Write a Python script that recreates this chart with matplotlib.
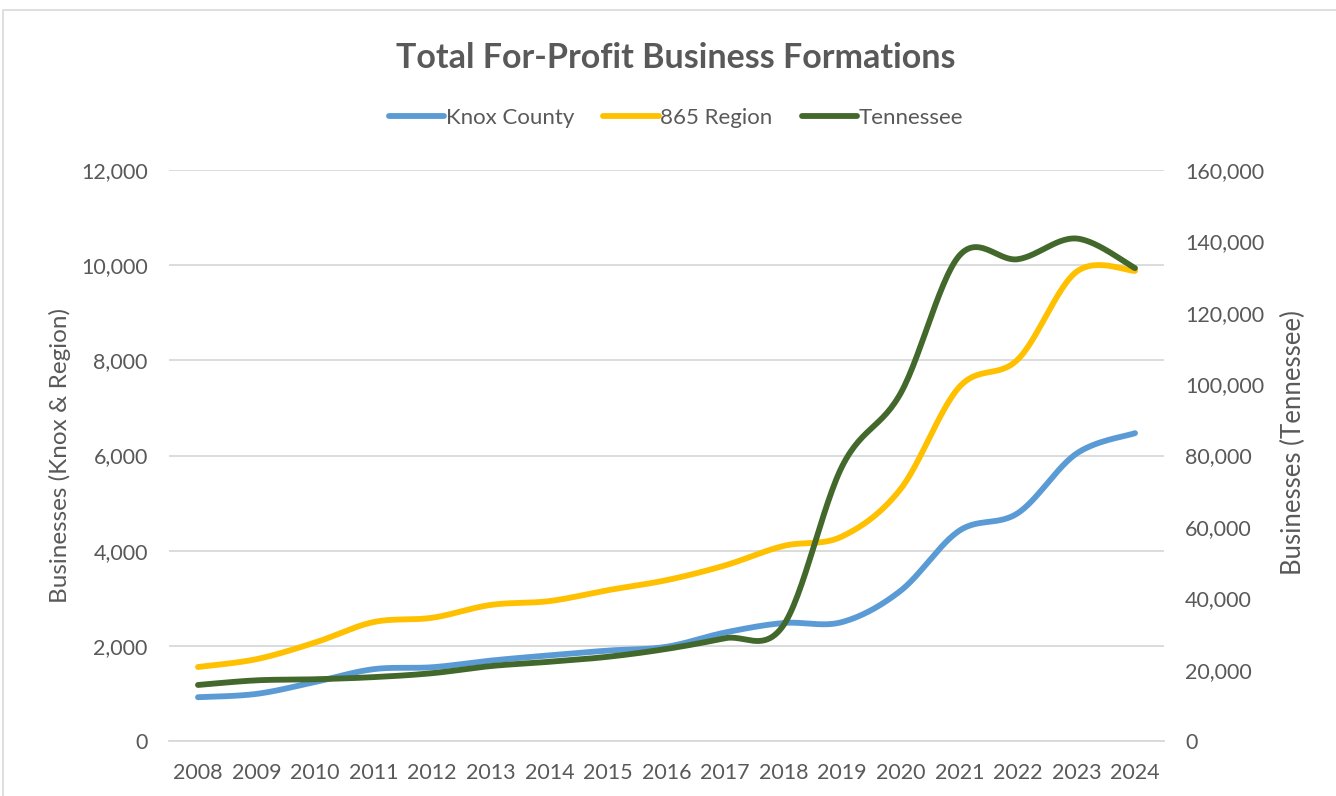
import matplotlib
matplotlib.use("Agg")
import matplotlib.pyplot as plt
from matplotlib.patches import Rectangle
from matplotlib.ticker import FuncFormatter, MultipleLocator
import numpy as np

# Data
years = list(range(2008, 2025))
knox = [920, 990, 1240, 1510, 1550, 1690, 1800, 1900, 1980, 2280, 2480, 2500,
        3160, 4420, 4790, 6040, 6470]
region = [1555, 1720, 2070, 2500, 2590, 2860, 2940, 3170, 3380, 3690, 4100,
          4300, 5300, 7440, 8020, 9860, 9880]
tennessee = [15700, 17000, 17300, 17900, 19000, 21000, 22200, 23600, 25800,
             28800, 32500, 77000, 97500, 136000, 135000, 140800, 132500]

TEXT = "#595959"
GRID = "#D9D9D9"
plt.rcParams['font.family'] = ['Lato', 'DejaVu Sans']


# Excel style smoothed line (Catmull-Rom bezier between the points)
def smooth(xs, ys, n=30):
    xs = np.asarray(xs, float)
    ys = np.asarray(ys, float)
    px = np.concatenate([[xs[0]], xs, [xs[-1]]])
    py = np.concatenate([[ys[0]], ys, [ys[-1]]])
    out_x, out_y = [], []
    t = np.linspace(0, 1, n)
    for i in range(1, len(xs)):
        p0 = np.array([px[i], py[i]])
        p3 = np.array([px[i + 1], py[i + 1]])
        c1 = p0 + (p3 - np.array([px[i - 1], py[i - 1]])) / 6
        c2 = p3 - (np.array([px[i + 2], py[i + 2]]) - p0) / 6
        pts = ((1 - t) ** 3)[:, None] * p0 + (3 * (1 - t) ** 2 * t)[:, None] * c1 \
            + (3 * (1 - t) * t ** 2)[:, None] * c2 + (t ** 3)[:, None] * p3
        if i > 1:
            pts = pts[1:]
        out_x.extend(pts[:, 0])
        out_y.extend(pts[:, 1])
    return out_x, out_y


fig = plt.figure(figsize=(13.36, 7.96), dpi=100)
fig.patches.append(Rectangle((3 / 1336, -0.1), 1.2, (796 - 10) / 796 + 0.1,
                             transform=fig.transFigure, fill=False,
                             edgecolor=GRID, lw=1.2))

ax = fig.add_axes([168.7 / 1336, 55 / 796, 995.6 / 1336, 571 / 796])
ax2 = ax.twinx()

lw = 4.2
kx, ky = smooth(years, knox)
rx, ry = smooth(years, region)
tx, ty = smooth(years, tennessee)
l1, = ax.plot(kx, ky, color="#5B9BD5", lw=lw, solid_capstyle="round", label="Knox County")
l2, = ax.plot(rx, ry, color="#FFC000", lw=lw, solid_capstyle="round", label="865 Region")
l3, = ax2.plot(tx, ty, color="#43682B", lw=lw, solid_capstyle="round", label="Tennessee")

ax.set_xlim(2007.5, 2024.5)
ax.set_ylim(0, 12000)
ax2.set_ylim(0, 160000)
ax.yaxis.set_major_locator(MultipleLocator(2000))
ax2.yaxis.set_major_locator(MultipleLocator(20000))
fmt = FuncFormatter(lambda v, p: f"{int(v):,}")
ax.yaxis.set_major_formatter(fmt)
ax2.yaxis.set_major_formatter(fmt)
ax.set_xticks(years)
ax.set_xticklabels([str(y) for y in years])
ax.grid(axis="y", color=GRID, lw=1.3)
ax.set_axisbelow(True)

for a in (ax, ax2):
    for s in a.spines.values():
        s.set_visible(False)
    a.tick_params(length=0, labelsize=15.5, labelcolor=TEXT)
ax.spines["bottom"].set_visible(True)
ax.spines["bottom"].set_color(GRID)
ax.spines["bottom"].set_linewidth(1.3)
ax.tick_params(axis="y", pad=15)
ax2.tick_params(axis="y", pad=15)
ax.tick_params(axis="x", pad=16)

ax.set_ylabel("Businesses (Knox & Region)", fontsize=17.5, color=TEXT, labelpad=7)
ax2.set_ylabel("Businesses (Tennessee)", fontsize=18.5, color=TEXT, labelpad=13)
ax2.yaxis.set_label_coords(1.117, 0.522)

fig.text(0.506, 0.927, "Total For-Profit Business Formations", ha="center",
         va="center", fontsize=24.5, fontweight="bold", color=TEXT)
fig.legend(handles=[l1, l2, l3], loc="center", bbox_to_anchor=(0.506, 0.852),
           ncol=3, frameon=False, fontsize=16, labelcolor=TEXT,
           handlelength=2.5, handletextpad=0.08, columnspacing=1.3)

fig.savefig("out.png", dpi=100)
